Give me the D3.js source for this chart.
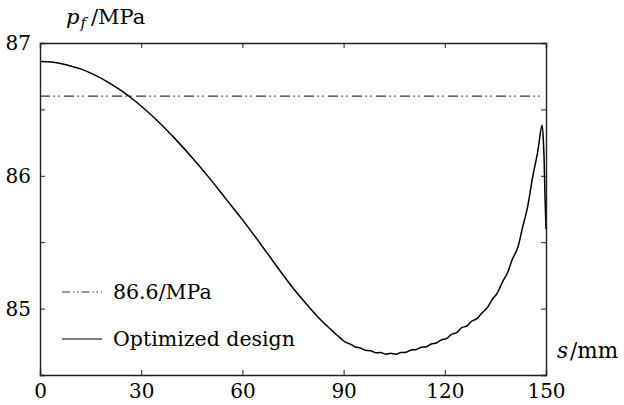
<!DOCTYPE html>
<html>
<head>
<meta charset="utf-8">
<script src="https://cdn.jsdelivr.net/npm/d3@7"></script>
<style>
  html, body { margin: 0; padding: 0; background: #fff; }
  svg { display: block; }
</style>
</head>
<body>
<svg id="chart" width="624" height="405"></svg>
<script>
// Arc-length position along the part (mm)
const sValues = [0, 4, 8, 12, 16, 20, 24, 28, 32, 36, 40, 45, 50, 55, 60, 65, 70, 75, 80, 84,
  86, 87.5, 89, 90.5, 92, 93.5, 95, 96.5, 98, 99.5, 101, 102.5, 104, 105.5, 107, 108.5,
  110, 111.5, 113, 114.5, 116, 117.5, 119, 120.5, 122, 123.5, 125, 126.5, 128, 129.5,
  131, 132.5, 134, 135.5, 137, 138.5, 140, 141.5, 143, 144.5, 146, 147.5, 148.8, 149.3, 149.7, 150];
// Pressure of the optimized design (MPa)
const optimizedPressure = [86.86, 86.855, 86.835, 86.805, 86.762, 86.708, 86.643, 86.567, 86.48, 86.385, 86.28,
  86.14, 85.99, 85.83, 85.67, 85.50, 85.325, 85.155, 85.005, 84.895,
  84.848, 84.812, 84.779, 84.748, 84.733, 84.711, 84.703, 84.686, 84.683, 84.668, 84.669, 84.657,
  84.664, 84.657, 84.669, 84.671, 84.689, 84.691, 84.709, 84.713, 84.734, 84.741, 84.764, 84.774,
  84.806, 84.819, 84.856, 84.869, 84.906, 84.924, 84.966, 85.004, 85.066, 85.114, 85.196, 85.264,
  85.37, 85.45, 85.605, 85.76, 85.985, 86.175, 86.38, 86.22, 85.85, 85.6];
// Constant reference level
const referenceValue = 86.6;
const referenceSpan = [0, 150];

const xTicks = [0, 30, 60, 90, 120, 150];
const yTicks = [85, 86, 87];
const yMinorTicks = [84.5, 85, 85.5, 86, 86.5, 87];
const legendLabels = ["86.6/MPa", "Optimized design"];

const svg = d3.select("#chart");
const margin = { left: 40, right: 78, top: 43, bottom: 30 };
const W = 624, H = 405;

const x = d3.scaleLinear().domain([0, 150]).range([margin.left, W - margin.right]);
const y = d3.scaleLinear().domain([84.5, 87]).range([H - margin.bottom, margin.top]);

const serif = "DejaVu Serif";
const fontSize = 20;
const axisColor = "#222";
const dashDot = "10,3.5,1.5,3,1.5,4.5";

// Reference line
svg.append("line")
  .attr("x1", x(referenceSpan[0])).attr("x2", x(referenceSpan[1]) - 4)
  .attr("y1", y(referenceValue)).attr("y2", y(referenceValue))
  .attr("stroke", "#333").attr("stroke-width", 1.1)
  .attr("stroke-dasharray", dashDot);

// Optimized pressure curve
const pts = sValues.map((s, i) => [s, optimizedPressure[i]]);
svg.append("path")
  .datum(pts)
  .attr("fill", "none")
  .attr("stroke", "#000")
  .attr("stroke-width", 1.5)
  .attr("stroke-linejoin", "round")
  .attr("d", d3.line().x(d => x(d[0])).y(d => y(d[1])).curve(d3.curveCatmullRom.alpha(0.5)));

// Axes with inward ticks on all four sides
const tickLen = 5;
const axisBottomG = svg.append("g").attr("transform", `translate(0,${y.range()[0]})`)
  .call(d3.axisBottom(x).tickValues(xTicks).tickSize(-tickLen).tickPadding(9).tickFormat(d3.format("d")));
const axisTopG = svg.append("g").attr("transform", `translate(0,${y.range()[1]})`)
  .call(d3.axisTop(x).tickValues(xTicks).tickSize(-tickLen).tickFormat(""));
const axisLeftG = svg.append("g").attr("transform", `translate(${x.range()[0]},0)`)
  .call(d3.axisLeft(y).tickValues(yMinorTicks).tickSize(-tickLen).tickPadding(9)
    .tickFormat(d => yTicks.includes(d) ? d3.format("d")(d) : ""));
const axisRightG = svg.append("g").attr("transform", `translate(${x.range()[1]},0)`)
  .call(d3.axisRight(y).tickValues(yMinorTicks).tickSize(-tickLen).tickFormat(""));

[axisBottomG, axisTopG, axisLeftG, axisRightG].forEach(g => {
  g.attr("font-family", serif);
  g.select(".domain").attr("stroke", axisColor).attr("stroke-width", 1.4);
  g.selectAll(".tick line").attr("stroke", axisColor).attr("stroke-width", 1);
  g.selectAll("text").attr("font-size", fontSize).attr("fill", "#000");
});
axisBottomG.selectAll(".tick text").attr("dy", "0.71em");

// Axis titles
const yTitle = svg.append("text").attr("x", 66).attr("y", 24)
  .attr("font-family", serif).attr("font-size", 21);
yTitle.append("tspan").attr("font-style", "italic").text("p");
yTitle.append("tspan").attr("font-style", "italic").attr("font-size", 15).attr("dy", 4).attr("dx", 1).text("f");
yTitle.append("tspan").attr("dy", -4).attr("dx", 5).text("/MPa");

const xTitle = svg.append("text").attr("x", 557).attr("y", 358)
  .attr("font-family", serif).attr("font-size", 21.5);
xTitle.append("tspan").attr("font-style", "italic").text("s");
xTitle.append("tspan").attr("dx", 2).text("/mm");

// Legend
const legend = svg.append("g").attr("font-family", serif);
const legendY = [292, 339];
legend.append("line").attr("x1", 62).attr("x2", 102).attr("y1", legendY[0]).attr("y2", legendY[0])
  .attr("stroke", "#333").attr("stroke-width", 1.1).attr("stroke-dasharray", "8,3,1.5,2.5,1.5,3");
legend.append("line").attr("x1", 62).attr("x2", 102).attr("y1", legendY[1]).attr("y2", legendY[1])
  .attr("stroke", "#000").attr("stroke-width", 1.1);
legendLabels.forEach((t, i) => {
  legend.append("text").attr("x", 113).attr("y", legendY[i] + 7)
    .attr("font-size", 20.5).text(t);
});
</script>
</body>
</html>
